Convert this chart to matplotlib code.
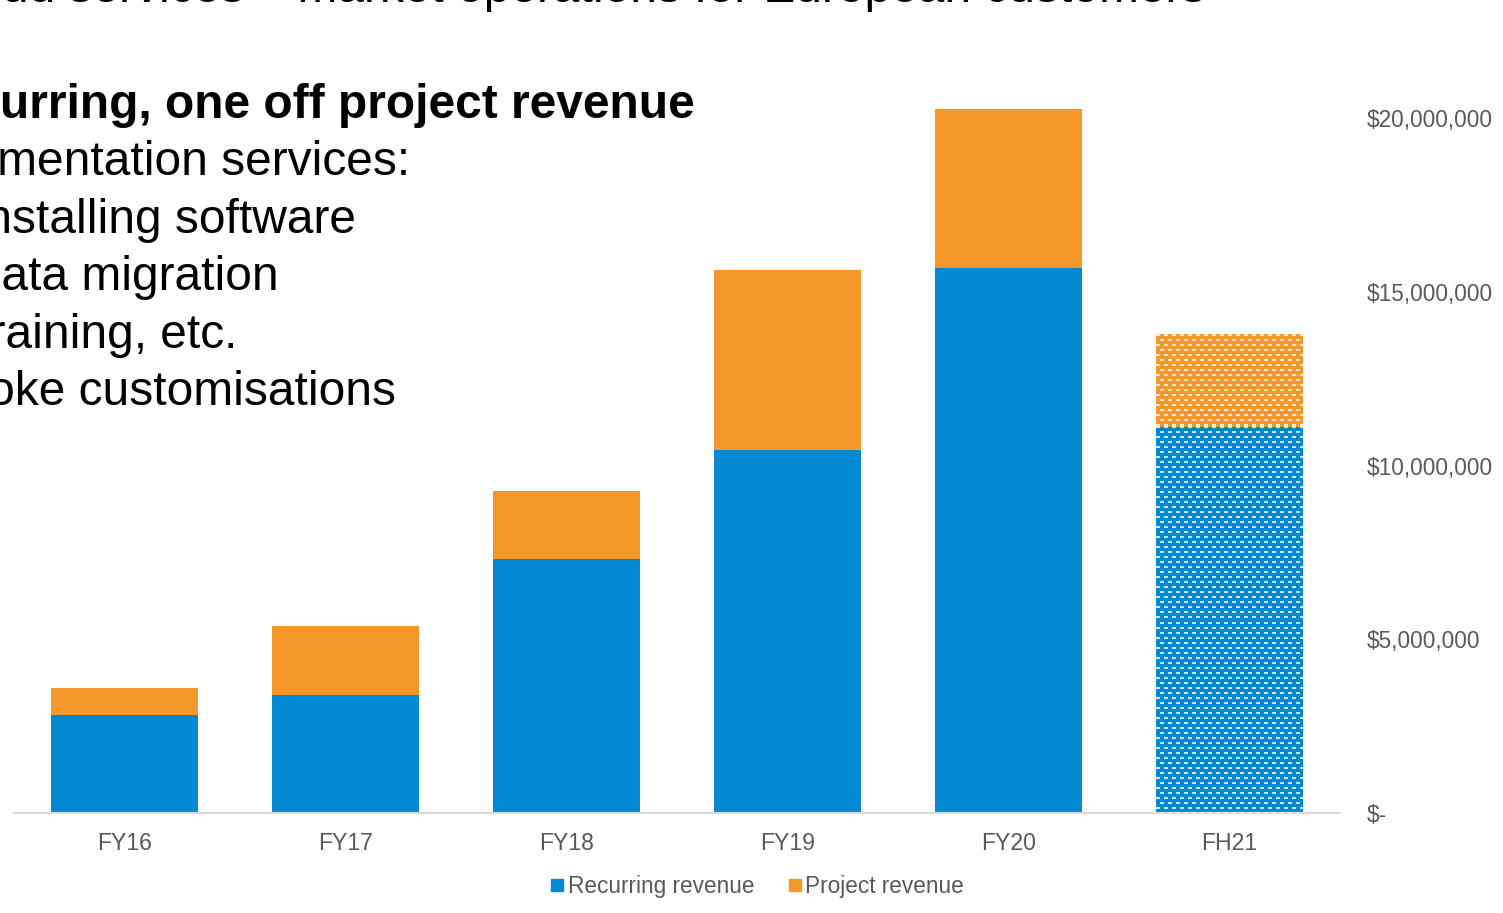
import numpy as np
import matplotlib
matplotlib.use("Agg")
import matplotlib.pyplot as plt
from matplotlib.lines import Line2D
from matplotlib.ticker import FuncFormatter

plt.rcParams['font.family'] = ['Liberation Sans', 'DejaVu Sans']

# Revenue per period (USD)
periods = ['FY16', 'FY17', 'FY18', 'FY19', 'FY20', 'FH21']
recurring = [2.82e6, 3.40e6, 7.31e6, 10.45e6, 15.68e6, 11.11e6]
project = [0.78e6, 1.98e6, 1.96e6, 5.18e6, 4.58e6, 2.67e6]
series_names = ['Recurring revenue', 'Project revenue']
y_ticks = [0, 5e6, 10e6, 15e6, 20e6]

blue = '#0389D3'
orange = '#F6972A'
grey = '#595959'

W, H = 1503, 913
fig = plt.figure(figsize=(W / 100, H / 100), dpi=100)

def px(x, y):
    return x / W, 1 - y / H

# axes area in pixels: x 14..1340, y 0..813
ax = fig.add_axes([14 / W, (H - 813) / H, (1340 - 14) / W, 813 / H])
x = np.arange(len(periods))
b1 = ax.bar(x, recurring, width=0.665, color=blue, edgecolor='none', zorder=2)
b2 = ax.bar(x, project, width=0.665, bottom=recurring, color=orange, edgecolor='none', zorder=2)

ax.set_xlim(-0.5, 5.5)
ax.set_ylim(0, 23.4e6)
for s in ['left', 'right', 'top']:
    ax.spines[s].set_visible(False)
ax.spines['bottom'].set_color('#D9D9D9')
ax.spines['bottom'].set_linewidth(1.5)

ax.set_xticks(x)
ax.set_xticklabels(periods, fontsize=16.6, color=grey)
ax.tick_params(axis='x', length=0, pad=14)

ax.yaxis.tick_right()
ax.set_yticks(y_ticks)
ax.yaxis.set_major_formatter(FuncFormatter(lambda v, p: '$-' if v == 0 else '${:,.0f}'.format(v)))
ax.tick_params(axis='y', length=0, pad=19, labelsize=16.3, labelcolor=grey)
for lbl in ax.get_yticklabels():
    lbl.set_horizontalalignment('left')

# white brick texture on the half-year bar
fig.canvas.draw()
renderer = fig.canvas.get_renderer()
for bar in (b1[-1], b2[-1]):
    ext = bar.get_window_extent(renderer)
    w, h = int(round(ext.width)), int(round(ext.height))
    rr, cc = np.mgrid[0:h, 0:w]
    off = np.where((rr // 5) % 2 == 1, 4, 0)
    mask = ((rr % 5) < 2) & (((cc + off) % 8) < 4)
    tex = np.zeros((h, w, 4))
    tex[..., :3] = 1.0
    tex[..., 3] = np.where(mask, 0.8, 0.0)
    bx, by = bar.get_x(), bar.get_y()
    ax.imshow(tex, extent=(bx, bx + bar.get_width(), by, by + bar.get_height()),
              origin='upper', aspect='auto', interpolation='nearest', zorder=3)
ax.set_xlim(-0.5, 5.5)
ax.set_ylim(0, 23.4e6)

handles = [Line2D([], [], marker='s', linestyle='none', markersize=9, color=c)
           for c in (blue, orange)]
leg = fig.legend(handles, series_names, loc='center', bbox_to_anchor=px(756, 886),
                 ncol=2, frameon=False, fontsize=16.3, handletextpad=0.05,
                 columnspacing=1.4, handlelength=0.8)
for t in leg.get_texts():
    t.set_color(grey)

# slide text around the chart
fig.text(*px(1205, 2), 'Cloud services \u2013 market operations for European customers',
         fontsize=34.5, ha='right', va='baseline', color='black')
fig.text(*px(695, 118), 'Non-recurring, one off project revenue', fontsize=34.5,
         fontweight='bold', ha='right', va='baseline', color='black')
lines = [('Implementation services:', 410, 175),
         ('Installing software', 356, 233),
         ('Data migration', 279, 290),
         ('Training, etc.', 237, 348),
         ('Bespoke customisations', 396, 405)]
for txt, xr, yb in lines:
    fig.text(*px(xr, yb), txt, fontsize=34.5, ha='right', va='baseline', color='black')

fig.savefig('out.png', dpi=100)
